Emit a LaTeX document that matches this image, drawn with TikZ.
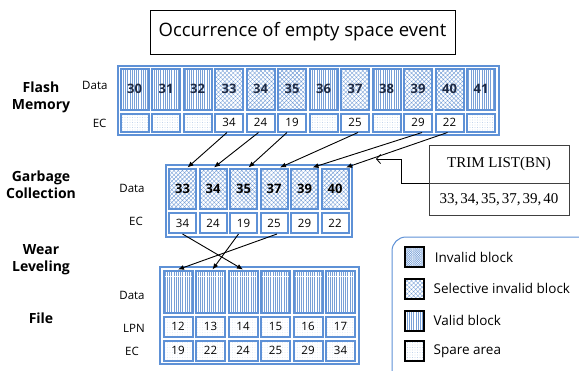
\documentclass[tikz,border=0pt]{standalone}
\usepackage{fontspec}
\setmainfont{Open Sans}
\newfontfamily\trimfont{Liberation Serif}
\usetikzlibrary{arrows.meta,patterns.meta,positioning}
\definecolor{cellblue}{RGB}{94,145,214}
\definecolor{hatchblue}{RGB}{120,160,215}
\definecolor{numnavy}{RGB}{30,42,68}

\begin{document}
\begin{tikzpicture}[x=1pt,y=-1pt]
	\tikzstyle{cell} = [draw=cellblue, line width=2pt, inner sep=0pt, font=\bfseries\fontsize{13}{13}\selectfont, text=numnavy];
	\tikzstyle{eccell} = [draw=cellblue, line width=2pt, inner sep=0pt, font=\fontsize{11.5}{12}\selectfont];
	\tikzstyle{frame} = [draw=cellblue, line width=2pt];
	\tikzstyle{validblk} = [pattern={Lines[angle=90,distance=2.2pt,line width=0.6pt]}, pattern color=hatchblue];
	\tikzstyle{selblk} = [pattern={Hatch[angle=45,distance=3pt,line width=0.4pt]}, pattern color=hatchblue];
	\tikzstyle{invblk} = [pattern={Hatch[angle=45,distance=1.6pt,line width=0.35pt]}, pattern color=hatchblue];
	\tikzstyle{spareblk} = [pattern={Dots[distance=2.5pt,radius=0.35pt]}, pattern color=hatchblue!70];
	\tikzstyle{plainblk} = [fill=white];
	\tikzstyle{rowlabel} = [font=\fontsize{11.5}{12}\selectfont];
	\tikzstyle{stage} = [font=\bfseries\fontsize{14}{17}\selectfont, align=center];
	\tikzstyle{legsq} = [draw=black, line width=2pt, minimum width=19pt, minimum height=20pt, inner sep=0pt];
	\tikzstyle{legtext} = [font=\fontsize{13.5}{14}\selectfont, inner sep=0pt];
	\tikzstyle{trimbox} = [draw=black!75, line width=0.7pt, minimum width=140pt, inner sep=0pt, font=\trimfont\fontsize{15}{16}\selectfont];
	\tikzstyle{moveto} = [-{Latex[length=6pt,width=5pt]}, line width=0.9pt];
	
	\useasboundingbox (0,0) rectangle (579,370);
	
	\node[draw, line width=0.8pt, minimum width=305pt, minimum height=44pt, font=\fontsize{18.5}{19}\selectfont] (title) at (302.5,32) {Occurrence of empty space event};
	
	% flash memory
	\foreach \bn/\bs/\ec/\es [count=\i from 0] in {30/validblk/{}/spareblk, 31/validblk/{}/spareblk, 32/validblk/{}/spareblk, 33/selblk/34/plainblk, 34/selblk/24/plainblk, 35/selblk/19/plainblk, 36/validblk/{}/spareblk, 37/selblk/25/plainblk, 38/validblk/{}/spareblk, 39/selblk/29/plainblk, 40/selblk/22/plainblk, 41/validblk/{}/spareblk}
	{
		\node[cell, \bs, minimum width=28pt, minimum height=41pt] (fd\bn) at (134.5+31.5*\i,89) {\bn};
		\node[eccell, \es, minimum width=28pt, minimum height=18pt] (fe\bn) at (134.5+31.5*\i,122.5) {\ec};
	}
	\draw[frame] ([xshift=-2.5pt,yshift=2.5pt]fd30.north west) rectangle ([xshift=2.5pt,yshift=-2.5pt]fe41.south east);
	\node[stage] (flashlbl) at (41,97) {Flash\\Memory};
	\node[rowlabel, anchor=east] (flashdata) at (111,85) {Data};
	\node[rowlabel, anchor=east] (flashec) at (110,123) {EC};
	
	% garbage collection
	\foreach \bn/\ec [count=\i from 0] in {33/34,34/24,35/19,37/25,39/29,40/22}
	{
		\node[cell, selblk, text=black, minimum width=27pt, minimum height=40pt] (gd\bn) at (182.5+30.5*\i,188.5) {\bn};
		\node[eccell, plainblk, minimum width=27pt, minimum height=20pt] (ge\bn) at (182.5+30.5*\i,223) {\ec};
	}
	\draw[frame] ([xshift=-2.5pt,yshift=2.5pt]gd33.north west) rectangle ([xshift=2.5pt,yshift=-2.5pt]ge40.south east);
	\node[stage] (gclbl) at (41,185) {Garbage\\Collection};
	\node[rowlabel] (gcdata) at (132,188) {Data};
	\node[rowlabel] (gcec) at (136,221) {EC};
	
	\foreach \bn/\dx in {33/-2,34/-2,35/-5,37/3,39/4,40/-2}
		\coordinate (fs\bn) at ([xshift=\dx pt]fe\bn.south);
	\draw[moveto] (fs33) -- ([xshift=5pt]gd33.north);
	\draw[moveto] (fs34) -- ([xshift=1pt]gd34.north);
	\draw[moveto] (fs35) -- ([xshift=5pt]gd35.north);
	\draw[moveto] (fs37) -- ([xshift=6pt]gd37.north);
	\draw[moveto] (fs39) -- ([xshift=8pt]gd39.north);
	\draw[moveto] (fs40) -- ([xshift=11pt]gd40.north);
	
	% trim list
	\node[trimbox, minimum height=38pt] (trimhead) at (499,164) {TRIM LIST(BN)};
	\node[trimbox, minimum height=32pt, below=0pt of trimhead] (trimbody) {33,\kern2pt 34,\kern2pt 35,\kern2pt 37,\kern2pt 39,\kern2pt 40};
	\coordinate (trimtip) at (376,159);
	\draw[-{Straight Barb[length=4pt,width=9pt]}, line width=0.8pt] (trimhead.south west) -- ++(-27,0) |- (trimtip);
	
	% wear leveling / file
	\foreach \lpn/\ec [count=\i from 0] in {12/19,13/22,14/24,15/25,16/29,17/34}
	{
		\node[cell, validblk, minimum width=29pt, minimum height=42pt] (vd\lpn) at (178+32.5*\i,291.5) {};
		\node[eccell, spareblk, pattern color=hatchblue!35, minimum width=29pt, minimum height=20pt] (vl\lpn) at (178+32.5*\i,326.5) {\lpn};
		\node[eccell, spareblk, pattern color=hatchblue!35, minimum width=29pt, minimum height=20pt] (ve\lpn) at (178+32.5*\i,350.5) {\ec};
	}
	\draw[frame] ([xshift=-2.5pt,yshift=2.5pt]vd12.north west) rectangle ([xshift=2.5pt,yshift=-2.5pt]ve17.south east);
	\node[stage] (wearlbl) at (41,260) {Wear\\Leveling};
	\node[stage] (filelbl) at (41,318) {File};
	\node[rowlabel] (filedata) at (132,295) {Data};
	\node[rowlabel] (filelpn) at (134,328) {LPN};
	\node[rowlabel] (fileec) at (132,351) {EC};
	
	\draw[moveto] (ge33.south) -- (vd14.north);
	\draw[moveto] ([xshift=-5pt]ge35.south) -- ([xshift=2pt]vd13.north);
	\draw[moveto] ([xshift=3pt]ge37.south) -- (vd12.north);
	
	% legend
	\begin{scope}
		\clip (0,0) rectangle (579,370);
		\draw[cellblue, line width=1pt, rounded corners=14pt] (392,237) rectangle (610,390);
	\end{scope}
	\node[legsq, invblk] (leginv) at (414,257) {};
	\node[legtext, right=11pt of leginv] (leginvtxt) {Invalid block};
	\node[legsq, selblk] (legsel) at (414,288.5) {};
	\node[legtext, right=9pt of legsel] (legseltxt) {Selective invalid block};
	\node[legsq, validblk] (legval) at (414,320.5) {};
	\node[legtext, right=9pt of legval] (legvaltxt) {Valid block};
	\node[legsq, spareblk] (legspa) at (414,351) {};
	\node[legtext, right=9pt of legspa] (legspatxt) {Spare area};
\end{tikzpicture}
\end{document}
